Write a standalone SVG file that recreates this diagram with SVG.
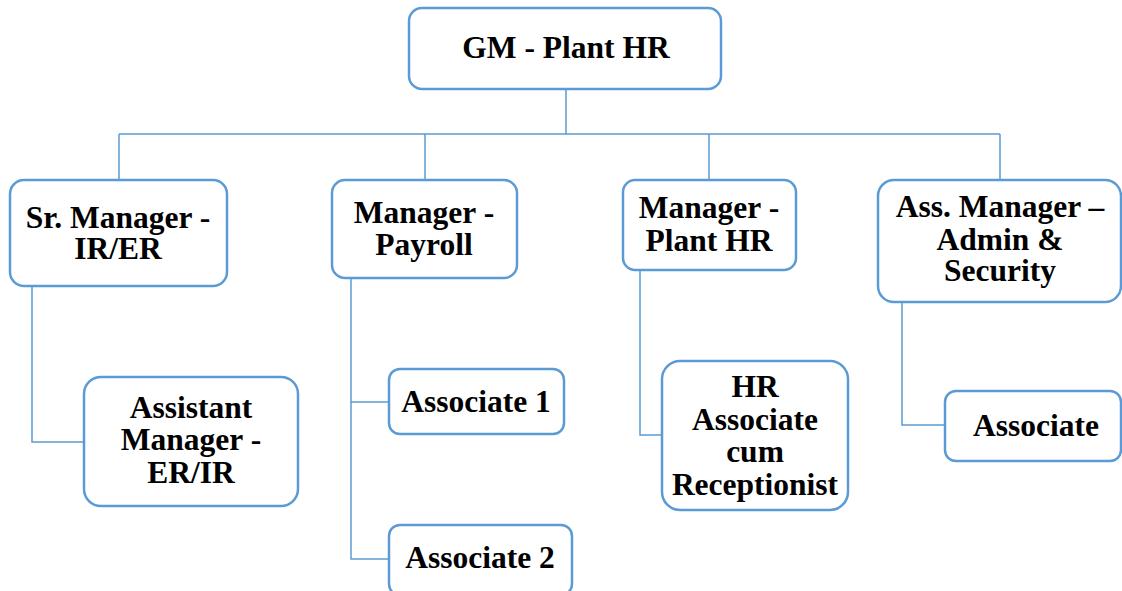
<svg xmlns="http://www.w3.org/2000/svg" width="1122" height="591" viewBox="0 0 1122 591">
<style>
.box{fill:#fff;stroke:#5b9bd5;stroke-width:2.5}
.ln{fill:none;stroke:#5b9bd5;stroke-width:1.5}
text{font-family:"Liberation Serif","Times New Roman",serif;font-weight:bold;font-size:31.5px;fill:#000;text-anchor:middle}
</style>
<rect width="1122" height="591" fill="#fff"/>
<g id="connectors">
<path class="ln" d="M566 89V134M119 134H1000M119 134V180M425 134V180M709 134V180M1000 134V180"/>
<path class="ln" d="M32 286V442H84"/>
<path class="ln" d="M351 278V559H388M351 402H388"/>
<path class="ln" d="M640 270V435H662"/>
<path class="ln" d="M902 302V425H945"/>
</g>
<g id="gm"><rect class="box" x="409" y="8" width="312" height="81" rx="13"/><text x="566" y="58">GM - Plant HR</text></g>
<g id="sr-manager"><rect class="box" x="10" y="180" width="217" height="106" rx="14"/><text x="118" y="228">Sr. Manager -</text><text x="118" y="259">IR/ER</text></g>
<g id="manager-payroll"><rect class="box" x="332" y="180" width="185" height="98" rx="13"/><text x="424" y="223">Manager -</text><text x="424" y="255">Payroll</text></g>
<g id="manager-plant-hr"><rect class="box" x="623" y="180" width="173" height="90" rx="12"/><text x="709" y="218">Manager -</text><text x="709" y="251">Plant HR</text></g>
<g id="ass-manager"><rect class="box" x="878" y="180" width="243" height="122" rx="16"/><text x="1000" y="217">Ass. Manager –</text><text x="1000" y="250">Admin &amp;</text><text x="1000" y="281">Security</text></g>
<g id="assistant-manager"><rect class="box" x="84" y="377" width="214" height="129" rx="17"/><text x="191" y="418">Assistant</text><text x="191" y="450">Manager -</text><text x="191" y="483">ER/IR</text></g>
<g id="associate-1"><rect class="box" x="389" y="369" width="175" height="65" rx="11"/><text x="476" y="412">Associate 1</text></g>
<g id="associate-2"><rect class="box" x="389" y="525" width="183" height="70" rx="11"/><text x="480" y="568">Associate 2</text></g>
<g id="hr-associate"><rect class="box" x="662" y="361" width="186" height="149" rx="18"/><text x="755" y="397">HR</text><text x="755" y="430">Associate</text><text x="755" y="462">cum</text><text x="755" y="495">Receptionist</text></g>
<g id="associate"><rect class="box" x="945" y="391" width="176" height="70" rx="11"/><text x="1036" y="436">Associate</text></g>
</svg>
